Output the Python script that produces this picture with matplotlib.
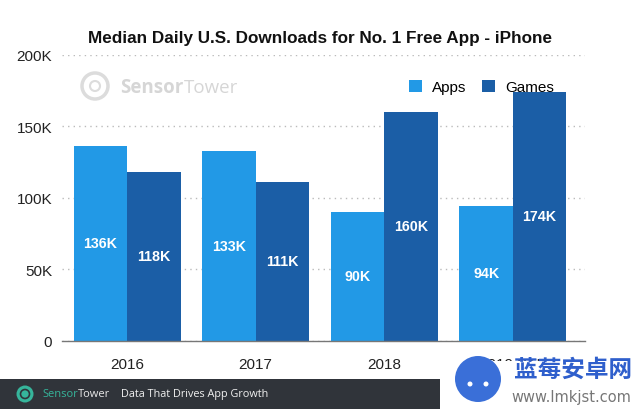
import numpy as np
import matplotlib
matplotlib.use("Agg")
import matplotlib.pyplot as plt
from matplotlib.patches import Rectangle, Circle, FancyBboxPatch

years = ["2016", "2017", "2018", "2019 YTD"]
apps = [136, 133, 90, 94]      # thousands
games = [118, 111, 160, 174]   # thousands
yticks = [0, 50, 100, 150, 200]
ytick_labels = ["0", "50K", "100K", "150K", "200K"]

c_apps = "#2299e6"
c_games = "#1b5ea6"

plt.rcParams['font.family'] = ['Liberation Sans', 'DejaVu Sans']

fig = plt.figure(figsize=(6.4, 4.1), dpi=100)
ax = fig.add_axes([0.097, 0.1666, 0.817, 0.6975])
px = fig.dpi_scale_trans  # inches, isotropic; pixel/100
renderer = fig.canvas.get_renderer()


def P(x, y):
    # pixel position (from top-left) -> inches for dpi_scale_trans
    return (x / 100, (410 - y) / 100)


def text_after(t, s, **kw):
    # put a second text right after the first one
    bb = t.get_window_extent(renderer)
    return fig.text(bb.x1 / 640, t.get_position()[1], s, ha="left", va="center", **kw)


x = np.arange(len(years))
w = 0.416
b1 = ax.bar(x - w / 2, apps, w, color=c_apps, label="Apps", zorder=3)
b2 = ax.bar(x + w / 2, games, w, color=c_games, label="Games", zorder=3)

for bars, vals in [(b1, apps), (b2, games)]:
    for r, v in zip(bars, vals):
        ax.text(r.get_x() + r.get_width() / 2, v / 2, f"{v}K", ha="center", va="center",
                color="white", fontsize=10.3, fontweight="bold", zorder=4)

ax.set_xlim(-0.505, 3.56)
ax.set_ylim(0, 200)
ax.set_yticks(yticks)
ax.set_yticklabels(ytick_labels)
ax.set_xticks(x)
ax.set_xticklabels(years)
ax.tick_params(axis="both", length=0, labelsize=11, colors="#222222")
ax.tick_params(axis="y", pad=7)
ax.tick_params(axis="x", pad=12)
for s in ["top", "right", "left"]:
    ax.spines[s].set_visible(False)
ax.spines["bottom"].set_color("#777777")
ax.spines["bottom"].set_linewidth(1)
ax.spines["bottom"].set_zorder(5)
ax.yaxis.grid(True, linestyle=(0, (1, 3)), color="#bbbbbb", linewidth=1, zorder=0)
ax.set_axisbelow(True)

leg = ax.legend(loc="center left", bbox_to_anchor=((409 - 62) / 523, 1 - (88 - 55.7) / 286),
                ncol=2, frameon=False, fontsize=11, handlelength=0.85, handleheight=0.85,
                columnspacing=1.05, handletextpad=0.65, borderaxespad=0, borderpad=0)

fig.text(0.5, 1 - 38 / 410, "Median Daily U.S. Downloads for No. 1 Free App - iPhone",
         ha="center", va="center", fontsize=12.3, fontweight="bold", color="#111111")

# watermark logo inside the plot
fig.patches.append(Circle(P(95, 87), 0.13, transform=px, fill=False,
                          edgecolor="#dcdcdc", linewidth=2.5))
fig.patches.append(Circle(P(95, 87), 0.05, transform=px, fill=False,
                          edgecolor="#dcdcdc", linewidth=1.5))
t1 = fig.text(120 / 640, 1 - 88 / 410, "Sensor", ha="left", va="center", fontsize=13.5,
              fontweight="bold", color="#d6d6d6", family=["Open Sans", "DejaVu Sans"])
text_after(t1, "Tower", fontsize=13.5, color="#d6d6d6", family=["Open Sans", "DejaVu Sans"])

# footer bar
fig.patches.append(Rectangle((0, 0), 1, 30 / 410, transform=fig.transFigure,
                             facecolor="#30343a", edgecolor="none"))
fig.patches.append(Circle(P(25, 395), 0.085, transform=px,
                          facecolor="#36b59b", edgecolor="none"))
fig.patches.append(Circle(P(25, 395), 0.045, transform=px, fill=False,
                          edgecolor="#30343a", linewidth=1.2))
t2 = fig.text(42 / 640, 15 / 410, "Sensor", ha="left", va="center", fontsize=8,
              color="#36b59b", family=["Open Sans", "DejaVu Sans"])
text_after(t2, "Tower", fontsize=8, color="#e8e8e8", family=["Open Sans", "DejaVu Sans"])
fig.text(121 / 640, 15 / 410, "Data That Drives App Growth", ha="left", va="center",
         fontsize=7.8, color="#f0f0f0", family=["Open Sans", "DejaVu Sans"])

# site watermark bottom right
fig.patches.append(FancyBboxPatch((440 / 640, -20 / 410), 230 / 640, 68 / 410,
                                  boxstyle="round,pad=0,rounding_size=0.04",
                                  transform=fig.transFigure, facecolor="white",
                                  edgecolor="none"))
fig.patches.append(Circle(P(478, 380), 0.23, transform=px,
                          facecolor="#3a6fd8", edgecolor="none"))
fig.patches.append(Circle(P(470, 385), 0.025, transform=px, facecolor="white",
                          edgecolor="none"))
fig.patches.append(Circle(P(486, 385), 0.025, transform=px, facecolor="white",
                          edgecolor="none"))
fig.text(573 / 640, 1 - 370 / 410, "蓝莓安卓网", ha="center", va="center", fontsize=17,
         fontweight="bold", color="#2f5fcc", family=["Noto Sans CJK SC", "DejaVu Sans"])
fig.text(571 / 640, 1 - 398 / 410, "www.lmkjst.com", ha="center", va="center", fontsize=10.5,
         color="#777777", family=["DejaVu Sans"])

fig.savefig("out.png", dpi=100)
